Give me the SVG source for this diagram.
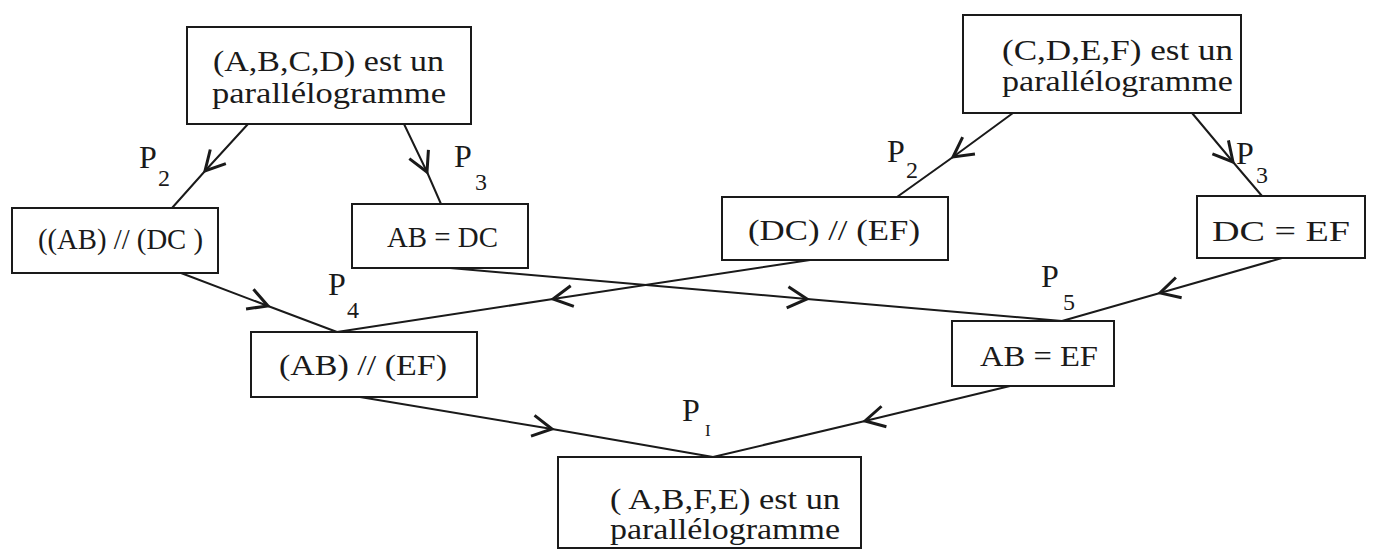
<svg xmlns="http://www.w3.org/2000/svg" width="1377" height="550" viewBox="0 0 1377 550">
<style>
.box{fill:none;stroke:#1a1a1a;stroke-width:2}
.t{font-family:"Liberation Serif","DejaVu Serif",serif;font-size:30px;fill:#1a1a1a}
.p{font-family:"Liberation Serif","DejaVu Serif",serif;font-size:32px;fill:#1a1a1a}
.s{font-family:"Liberation Serif","DejaVu Serif",serif;font-size:24px;fill:#1a1a1a}
.c{fill:none;stroke:#1a1a1a;stroke-width:2;marker-mid:url(#ah)}
</style>
<defs>
<marker id="ah" markerUnits="userSpaceOnUse" markerWidth="30" markerHeight="30" refX="0" refY="0" viewBox="-16 -10 20 20" orient="auto">
<path d="M-13,-7 L0,0 L-13,7" fill="none" stroke="#1a1a1a" stroke-width="2"/>
</marker>
</defs>
<rect width="1377" height="550" fill="#fff"/>
<g id="connectors">
<path class="c" d="M248,124 L205,171 L172,208"/>
<path class="c" d="M404,124 L427,172 L441,204"/>
<path class="c" d="M1013,113 L953,157 L897,197"/>
<path class="c" d="M1192,113 L1233,162 L1262,196"/>
<path class="c" d="M181,273 L268,306 L337,332"/>
<path class="c" d="M810,260 L553,299 L337,332"/>
<path class="c" d="M450,268 L807,299 L1062,321"/>
<path class="c" d="M1282,258 L1160,293 L1062,321"/>
<path class="c" d="M360,397 L552,429 L713,457"/>
<path class="c" d="M1010,386 L865,421 L713,457"/>
</g>
<g id="labels">
<text class="p" x="139" y="168">P</text><text class="s" x="158" y="186">2</text>
<text class="p" x="454" y="167">P</text><text class="s" x="475" y="190">3</text>
<text class="p" x="887" y="162">P</text><text class="s" x="906" y="178">2</text>
<text class="p" x="1236" y="164">P</text><text class="s" x="1256" y="183">3</text>
<text class="p" x="328" y="295">P</text><text class="s" x="347" y="318">4</text>
<text class="p" x="1041" y="287">P</text><text class="s" x="1063" y="310">5</text>
<text class="p" x="682" y="421">P</text><text class="s" x="705" y="436" style="font-size:17px">I</text>
</g>
<g id="n1">
<rect class="box" x="187" y="27" width="284" height="97"/>
<text class="t" x="213" y="71" textLength="231" lengthAdjust="spacingAndGlyphs">(A,B,C,D) est un</text>
<text class="t" x="212" y="103" textLength="234" lengthAdjust="spacingAndGlyphs">parallélogramme</text>
</g>
<g id="n2">
<rect class="box" x="963" y="15" width="278" height="98"/>
<text class="t" x="1002" y="60" textLength="231" lengthAdjust="spacingAndGlyphs">(C,D,E,F) est un</text>
<text class="t" x="1002" y="91" textLength="231" lengthAdjust="spacingAndGlyphs">parallélogramme</text>
</g>
<g id="n3">
<rect class="box" x="12" y="208" width="206" height="65"/>
<text class="t" x="38" y="249" textLength="165" lengthAdjust="spacingAndGlyphs">((AB) // (DC )</text>
</g>
<g id="n4">
<rect class="box" x="352" y="204" width="176" height="64"/>
<text class="t" x="387" y="247" textLength="111" lengthAdjust="spacingAndGlyphs">AB = DC</text>
</g>
<g id="n5">
<rect class="box" x="722" y="197" width="226" height="63"/>
<text class="t" x="748" y="240" textLength="172" lengthAdjust="spacingAndGlyphs">(DC) // (EF)</text>
</g>
<g id="n6">
<rect class="box" x="1197" y="196" width="168" height="62"/>
<text class="t" x="1212" y="241" textLength="138" lengthAdjust="spacingAndGlyphs">DC = EF</text>
</g>
<g id="n7">
<rect class="box" x="251" y="332" width="226" height="65"/>
<text class="t" x="279" y="375" textLength="168" lengthAdjust="spacingAndGlyphs">(AB) // (EF)</text>
</g>
<g id="n8">
<rect class="box" x="952" y="321" width="162" height="65"/>
<text class="t" x="980" y="366" textLength="118" lengthAdjust="spacingAndGlyphs">AB = EF</text>
</g>
<g id="n9">
<rect class="box" x="558" y="457" width="303" height="91"/>
<text class="t" x="610" y="509" textLength="230" lengthAdjust="spacingAndGlyphs">( A,B,F,E) est un</text>
<text class="t" x="610" y="539" textLength="230" lengthAdjust="spacingAndGlyphs">parallélogramme</text>
</g>
</svg>
